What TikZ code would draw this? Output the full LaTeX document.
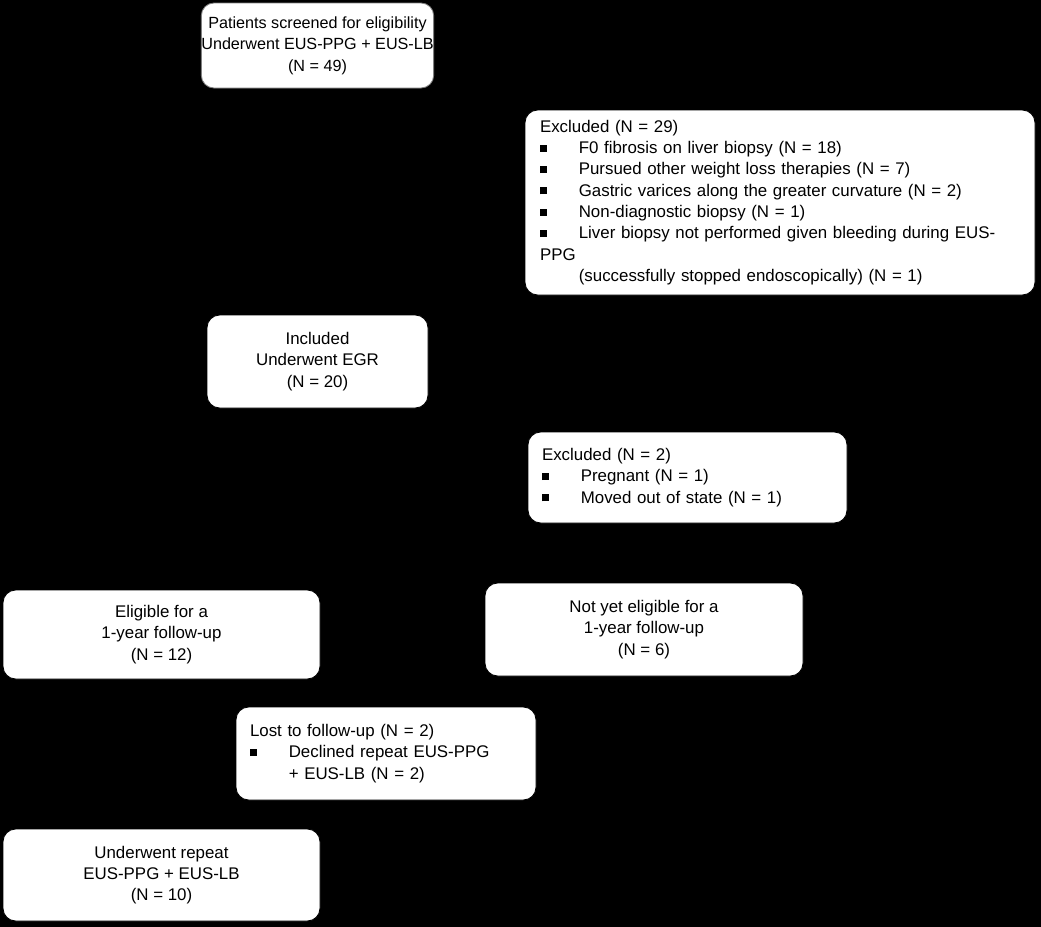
\documentclass[tikz,border=0pt]{standalone}
\usepackage{fontspec}
\setmainfont{Liberation Sans}
\usetikzlibrary{positioning}
\newcommand{\sqb}{\rule[0.2ex]{5pt}{5pt}\hspace{22.6pt}}
\newcommand{\sqi}{\hspace{27.6pt}}
\tikzset{flowbox/.style={fill=white,draw=black,rounded corners=9pt,line width=0.6pt,
  font=\fontsize{12}{15.2}\selectfont,inner sep=0pt}}
\begin{document}
\begin{tikzpicture}[x=0.025cm,y=-0.025cm]
\fill[black] (0,0) rectangle (1041,927);
% boxes given by their corners
\node[flowbox,draw=gray,minimum width=221*0.025cm,minimum height=85*0.025cm,align=center,font=\fontsize{11.5}{15.2}\selectfont] (screen) at (317.5,45.5)
  {Patients screened for eligibility\\Underwent EUS-PPG + EUS-LB\\(N = 49)};
\node[flowbox,minimum width=510*0.025cm,minimum height=185*0.025cm,align=left,text width=480*0.025cm] (excla) at (780,202.5)
  {Excluded (N = 29)\\
  \sqb F0 fibrosis on liver biopsy (N = 18)\\
  \sqb Pursued other weight loss therapies (N = 7)\\
  \sqb Gastric varices along the greater curvature (N = 2)\\
  \sqb Non-diagnostic biopsy (N = 1)\\
  \sqb Liver biopsy not performed given bleeding during EUS-PPG\\
  \sqi (successfully stopped endoscopically) (N = 1)};
\node[flowbox,minimum width=221*0.025cm,minimum height=93*0.025cm,align=center] (incl) at (317.5,361.5)
  {Included\\Underwent EGR\\(N = 20)};
\node[flowbox,minimum width=319*0.025cm,minimum height=91*0.025cm,align=left,text width=291*0.025cm] (exclb) at (687.5,477.5)
  {Excluded (N = 2)\\
  \sqb Pregnant (N = 1)\\
  \sqb Moved out of state (N = 1)};
\node[flowbox,minimum width=317*0.025cm,minimum height=89*0.025cm,align=center] (elig) at (161.5,634.5)
  {Eligible for a\\1-year follow-up\\(N = 12)};
\node[flowbox,minimum width=318*0.025cm,minimum height=93*0.025cm,align=center] (notyet) at (644,629.5)
  {Not yet eligible for a\\1-year follow-up\\(N = 6)};
\node[flowbox,minimum width=300*0.025cm,minimum height=93*0.025cm,align=left,text width=272*0.025cm] (lost) at (386,753.5)
  {Lost to follow-up (N = 2)\\
  \sqb Declined repeat EUS-PPG\\
  \sqi + EUS-LB (N = 2)};
\node[flowbox,minimum width=317*0.025cm,minimum height=92*0.025cm,align=center] (repeat) at (161.5,875)
  {Underwent repeat\\EUS-PPG + EUS-LB\\(N = 10)};
\end{tikzpicture}
\end{document}
